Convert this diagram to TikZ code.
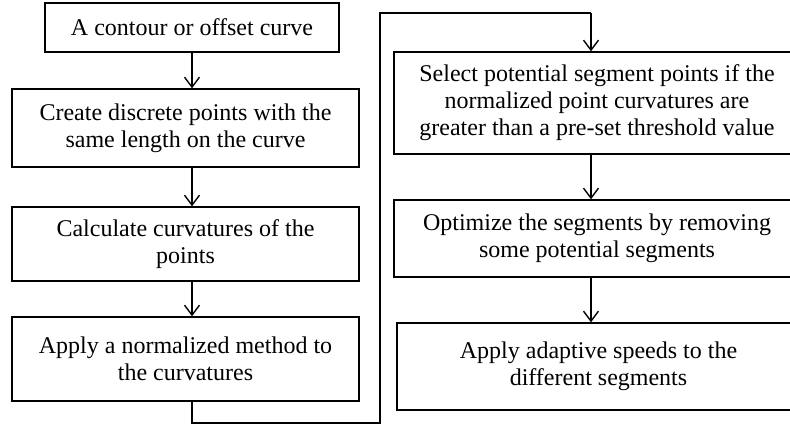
\documentclass[tikz,border=0pt]{standalone}
\usepackage{fontspec}
\setmainfont{Liberation Serif}
\usetikzlibrary{arrows.meta}
\begin{document}
\begin{tikzpicture}[x=1pt,y=1pt,
  stepbox/.style={draw, line width=1.4pt, inner sep=0pt, align=center,
    font=\fontsize{24}{27}\selectfont},
  flow/.style={line width=1.4pt, -{Straight Barb[length=10pt,width=15pt,line width=1.4pt]}}]
\clip (0,0) rectangle (790,-425);
\fill[white] (0,0) rectangle (790,-425);
% left column
\node[stepbox, minimum width=294, minimum height=49] (b1) at (192,-27.5) {A contour or offset curve};
\node[stepbox, minimum width=347, minimum height=78] (b2) at (185.5,-128) {Create discrete points with the\\same length on the curve};
\node[stepbox, minimum width=347, minimum height=74] (b3) at (185.5,-244) {Calculate curvatures of the\\points};
\node[stepbox, minimum width=347, minimum height=84] (b4) at (185.5,-359) {Apply a normalized method to\\the curvatures};
% right column
\node[stepbox, minimum width=406, minimum height=102] (r1) at (597,-103) {Select potential segment points if the\\normalized point curvatures are\\greater than a pre-set threshold value};
\node[stepbox, minimum width=406, minimum height=77] (r2) at (597,-238.5) {Optimize the segments by removing\\some potential segments};
\node[stepbox, minimum width=403, minimum height=87] (r3) at (598.5,-366.5) {Apply adaptive speeds to the\\different segments};
% guide coordinates
\coordinate (lx) at (192,0);
\coordinate (rx) at (591,0);
\coordinate (lo) at (380,-423);
\coordinate (hi) at (380,-13);
% arrows
\draw[flow] (b1.south -| lx) -- (b2.north -| lx);
\draw[flow] (b2.south -| lx) -- (b3.north -| lx);
\draw[flow] (b3.south -| lx) -- (b4.north -| lx);
\draw[line width=1.4pt] (b4.south -| lx) |- (lo) -- (hi) -- (hi -| rx);
\draw[flow] (hi -| rx) -- (r1.north -| rx);
\draw[flow] (r1.south -| rx) -- (r2.north -| rx);
\draw[flow] (r2.south -| rx) -- (r3.north -| rx);
\end{tikzpicture}
\end{document}
